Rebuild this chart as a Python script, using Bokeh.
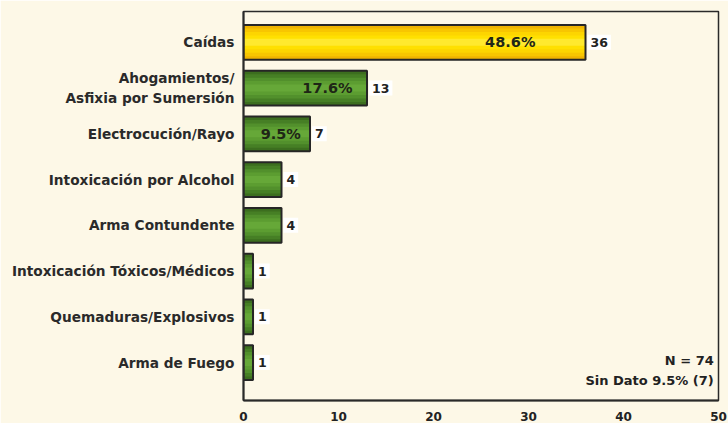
from bokeh.plotting import figure
from bokeh.models import ColumnDataSource, Range1d, FixedTicker, Label
from bokeh.core.properties import value
from bokeh.embed import file_html
from bokeh.resources import INLINE

categories = ["Caídas", "Ahogamientos/\nAsfixia por Sumersión", "Electrocución/Rayo",
              "Intoxicación por Alcohol", "Arma Contundente",
              "Intoxicación Tóxicos/Médicos", "Quemaduras/Explosivos", "Arma de Fuego"]
counts = [36, 13, 7, 4, 4, 1, 1, 1]
pct_labels = ["48.6%", "17.6%", "9.5%"]
x_ticks = [0, 10, 20, 30, 40, 50]
note_lines = ["N = 74", "Sin Dato 9.5% (7)"]

BG = "#FDF8E7"
FONT = "DejaVu Sans"
ypos = list(range(len(categories)))

p = figure(width=728, height=423, output_backend="svg", toolbar_location=None,
           x_range=Range1d(0, 50), y_range=Range1d(7.83, -0.674),
           min_border_left=243, min_border_right=10, min_border_top=11, min_border_bottom=21)
p.background_fill_color = BG
p.border_fill_color = BG
p.outline_line_color = "#2a2a2a"
p.outline_line_width = 1.5
p.xgrid.visible = False
p.ygrid.visible = False

# layered fills to imitate the gradient
yellow = ["#F0B400", "#F8C600", "#FDD500", "#FFE000", "#FFE92E"]
green = ["#3C6E1F", "#467F25", "#52902C", "#5C9D31", "#66A838"]
H = 0.76
fracs = [1.0, 0.8, 0.6, 0.4, 0.2]
for i, f in enumerate(fracs):
    cols = [yellow[i] if k == 0 else green[i] for k in range(len(counts))]
    src = ColumnDataSource(dict(y=ypos, right=counts, color=cols))
    p.hbar(y="y", right="right", left=0, height=H * f, source=src,
           fill_color="color", line_color=None)
p.hbar(y=ypos, right=counts, left=0, height=H, fill_alpha=0,
       line_color="#262626", line_width=2)

# count labels in white boxes
csrc = ColumnDataSource(dict(x=counts, y=ypos, t=[str(c) for c in counts]))
p.text(x="x", y="y", text="t", source=csrc, x_offset=2,
       text_align="left", text_baseline="middle",
       text_font=value(FONT), text_font_style="bold", text_font_size="12.5px",
       text_color="#222222", background_fill_color="white", padding=3)

# percent labels inside bars
pct_frac = [0.78, 0.68, 0.56]
psrc = ColumnDataSource(dict(x=[c * f for c, f in zip(counts[:3], pct_frac)],
                             y=ypos[:3], t=pct_labels))
p.text(x="x", y="y", text="t", source=psrc, text_align="center", text_baseline="middle",
       text_font=value(FONT), text_font_style="bold", text_font_size="14.5px",
       text_color="#1E2616")

# note
for yy, t in zip([6.96, 7.39], note_lines):
    p.add_layout(Label(x=49.5, y=yy, text=t, text_align="right", text_baseline="middle",
                       text_font=FONT, text_font_style="bold", text_font_size="13px",
                       text_color="#222222"))

# axes
p.xaxis.ticker = FixedTicker(ticks=x_ticks)
p.xaxis.major_tick_line_color = None
p.xaxis.minor_tick_line_color = None
p.xaxis.axis_line_width = 2
p.xaxis.axis_line_color = "#2a2a2a"
p.xaxis.major_label_text_font = FONT
p.xaxis.major_label_text_font_style = "bold"
p.xaxis.major_label_text_font_size = "12px"
p.xaxis.major_label_text_color = "#222222"
p.xaxis.major_label_standoff = 5

p.yaxis.ticker = FixedTicker(ticks=ypos)
p.yaxis.major_label_overrides = {i: c for i, c in zip(ypos, categories)}
p.yaxis.major_tick_line_color = None
p.yaxis.minor_tick_line_color = None
p.yaxis.axis_line_width = 2
p.yaxis.axis_line_color = "#2a2a2a"
p.yaxis.major_label_text_font = FONT
p.yaxis.major_label_text_font_style = "bold"
p.yaxis.major_label_text_font_size = "13.7px"
p.yaxis.major_label_text_color = "#2a2a2a"
p.yaxis.major_label_standoff = 3

open("out.html", "w").write(file_html(p, INLINE))
